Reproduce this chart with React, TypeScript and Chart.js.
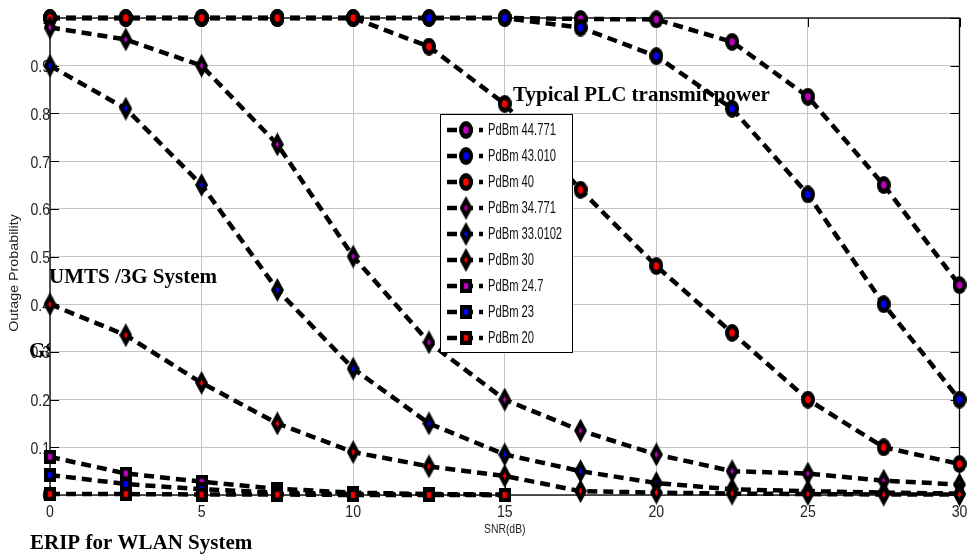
import React, { useEffect, useRef } from 'react';
import { Chart, registerables } from 'chart.js';

Chart.register(...registerables);

// ---- data ----
const snr = [0, 2.5, 5, 7.5, 10, 12.5, 15, 17.5, 20, 22.5, 25, 27.5, 30];
const p44771 = [1, 1, 1, 1, 1, 1, 1, 0.998, 0.997, 0.95, 0.835, 0.65, 0.44];
const p43010 = [1, 1, 1, 1, 1, 1, 1, 0.98, 0.92, 0.81, 0.63, 0.4, 0.2];
const p40 = [1, 1, 1, 1, 1, 0.94, 0.82, 0.64, 0.48, 0.34, 0.2, 0.1, 0.065];
const p34771 = [0.98, 0.955, 0.9, 0.735, 0.5, 0.32, 0.2, 0.135, 0.085, 0.05, 0.045, 0.03, 0.022];
const p330102 = [0.9, 0.81, 0.65, 0.43, 0.265, 0.15, 0.085, 0.05, 0.025, 0.012, 0.008, 0.005, 0.003];
const p30 = [0.4, 0.335, 0.235, 0.15, 0.09, 0.06, 0.04, 0.008, 0.005, 0.003, 0.002, 0.001, 0.001];
const p247 = [0.08, 0.045, 0.028, 0.013, 0.005, 0.002, 0.001];
const p23 = [0.042, 0.023, 0.012, 0.005, 0.002, 0.001, 0];
const p20 = [0.002, 0.002, 0.001, 0.001, 0, 0, 0];

const seriesNames = [
  'PdBm 44.771',
  'PdBm 43.010',
  'PdBm 40',
  'PdBm 34.771',
  'PdBm 33.0102',
  'PdBm 30',
  'PdBm 24.7',
  'PdBm 23',
  'PdBm 20',
];
const seriesValues = [p44771, p43010, p40, p34771, p330102, p30, p247, p23, p20];
const seriesShapes = ['circle', 'circle', 'circle', 'diamond', 'diamond', 'diamond', 'square', 'square', 'square'];
const seriesColors = ['#c000c0', '#0000ff', '#ff0000', '#c000c0', '#0000ff', '#ff0000', '#c000c0', '#0000ff', '#ff0000'];

const xTicks = [0, 5, 10, 15, 20, 25, 30];
const xTickLabels = ['0', '5', '10', '15', '20', '25', '30'];
const yTicks = [0, 0.1, 0.2, 0.3, 0.4, 0.5, 0.6, 0.7, 0.8, 0.9, 1];
const yTickLabels = ['0', '0.1', '0.2', '0.3', '0.4', '0.5', '0.6', '0.7', '0.8', '0.9', '1'];

const xTitle = 'SNR(dB)';
const yTitle = 'Outage Probability';
const notePLC = 'Typical PLC transmit power';
const noteUMTS = 'UMTS /3G System';
const noteGSM = 'GSM System';
const noteWLAN = 'ERIP for WLAN System';

const SANS = '"Liberation Sans", Arial, sans-serif';
const SERIF = '"Liberation Serif", "Times New Roman", serif';

function makeMarker(shape: string, color: string): HTMLCanvasElement {
  const c = document.createElement('canvas');
  let w = 12;
  let h = 14;
  if (shape === 'circle') { w = 14; h = 18; }
  if (shape === 'diamond') { w = 13; h = 24; }
  c.width = w;
  c.height = h;
  const g = c.getContext('2d')!;
  const cx = w / 2;
  const cy = h / 2;
  const shapePath = (hw: number, hh: number) => {
    g.beginPath();
    if (shape === 'circle') {
      g.ellipse(cx, cy, hw, hh, 0, 0, Math.PI * 2);
    } else if (shape === 'diamond') {
      g.moveTo(cx, cy - hh);
      g.lineTo(cx + hw, cy);
      g.lineTo(cx, cy + hh);
      g.lineTo(cx - hw, cy);
      g.closePath();
    } else {
      g.rect(cx - hw, cy - hh, hw * 2, hh * 2);
    }
  };
  g.fillStyle = '#000';
  shapePath(w / 2, h / 2);
  g.fill();
  g.fillStyle = color;
  if (shape === 'circle') shapePath(2.8, 3.8);
  else if (shape === 'diamond') shapePath(1.8, 3.6);
  else shapePath(2.2, 2.8);
  g.fill();
  return c;
}

function txt(
  ctx: CanvasRenderingContext2D,
  s: string,
  x: number,
  y: number,
  font: string,
  sx: number,
  align: CanvasTextAlign,
  baseline: CanvasTextBaseline = 'alphabetic',
  color = '#000',
  rot = 0
) {
  ctx.save();
  ctx.font = font;
  ctx.fillStyle = color;
  ctx.textAlign = align;
  ctx.textBaseline = baseline;
  ctx.translate(x, y);
  if (rot) ctx.rotate(rot);
  ctx.scale(sx, 1);
  ctx.fillText(s, 0, 0);
  ctx.restore();
}

export default function App() {
  const ref = useRef<HTMLCanvasElement | null>(null);

  useEffect(() => {
    document.body.style.margin = '0';
    const canvas = ref.current;
    if (!canvas) return;

    const markers = seriesShapes.map((s, i) => makeMarker(s, seriesColors[i]));

    const datasets = seriesValues.map((vals, i) => ({
      label: seriesNames[i],
      data: vals.map((v, j) => ({ x: snr[j], y: v })),
      borderColor: '#000',
      backgroundColor: '#000',
      borderWidth: 4.5,
      borderDash: [10, 6],
      borderCapStyle: 'butt' as const,
      pointStyle: markers[i],
      pointRadius: 7,
      pointHoverRadius: 7,
      fill: false,
      tension: 0,
      clip: false as any,
      order: seriesValues.length - i,
    }));

    const decor = {
      id: 'decor',
      beforeDatasetsDraw(chart: any) {
        const ctx: CanvasRenderingContext2D = chart.ctx;
        const xs = chart.scales.x;
        const ys = chart.scales.y;
        const a = chart.chartArea;
        ctx.save();
        // frame
        ctx.strokeStyle = '#000';
        ctx.lineWidth = 1.3;
        ctx.strokeRect(a.left, a.top, a.right - a.left, a.bottom - a.top);
        // inner ticks
        ctx.lineWidth = 1;
        ctx.beginPath();
        yTicks.forEach((t) => {
          const y = Math.round(ys.getPixelForValue(t)) + 0.5;
          ctx.moveTo(a.left, y);
          ctx.lineTo(a.left + 9, y);
          ctx.moveTo(a.right, y);
          ctx.lineTo(a.right - 9, y);
        });
        xTicks.forEach((t) => {
          const x = Math.round(xs.getPixelForValue(t)) + 0.5;
          ctx.moveTo(x, a.bottom);
          ctx.lineTo(x, a.bottom - 9);
          ctx.moveTo(x, a.top);
          ctx.lineTo(x, a.top + 9);
        });
        ctx.stroke();
        ctx.restore();

        // tick labels
        yTicks.forEach((t, i) => {
          txt(ctx, yTickLabels[i], a.left, ys.getPixelForValue(t) + 2, `16px ${SANS}`, 0.88, 'right', 'middle', '#222');
        });
        xTicks.forEach((t, i) => {
          txt(ctx, xTickLabels[i], xs.getPixelForValue(t), 513, `16px ${SANS}`, 0.88, 'center', 'middle', '#222');
        });
        // axis titles
        txt(ctx, xTitle, (a.left + a.right) / 2, 529, `13px ${SANS}`, 0.8, 'center', 'middle', '#222');
        txt(ctx, yTitle, 14, 273, `13px ${SANS}`, 1.1, 'center', 'middle', '#222', -Math.PI / 2);

        // annotations
        txt(ctx, notePLC, 513, 101, `bold 21px ${SERIF}`, 1, 'left');
        txt(ctx, noteUMTS, 49, 283, `bold 21px ${SERIF}`, 1, 'left');
        ctx.save();
        ctx.beginPath();
        ctx.rect(0, 0, a.left, chart.height);
        ctx.clip();
        txt(ctx, noteGSM, 29, 357, `bold 21px ${SERIF}`, 1, 'left');
        ctx.restore();
        txt(ctx, noteWLAN, 30, 549, `bold 21px ${SERIF}`, 1, 'left');
      },
      afterDatasetsDraw(chart: any) {
        const ctx: CanvasRenderingContext2D = chart.ctx;
        const bx = 440.5;
        const by = 114.5;
        const bw = 132;
        const bh = 238;
        ctx.save();
        ctx.fillStyle = '#fff';
        ctx.fillRect(bx, by, bw, bh);
        ctx.strokeStyle = '#000';
        ctx.lineWidth = 1;
        ctx.strokeRect(bx, by, bw, bh);
        seriesNames.forEach((name, i) => {
          const y = 130 + 26 * i;
          ctx.save();
          ctx.strokeStyle = '#000';
          ctx.lineWidth = 4.5;
          ctx.setLineDash([10, 6]);
          ctx.beginPath();
          ctx.moveTo(447, y);
          ctx.lineTo(483, y);
          ctx.stroke();
          ctx.restore();
          const m = markers[i];
          ctx.drawImage(m, 466 - m.width / 2, y - m.height / 2);
          txt(ctx, name, 488, y + 1, `16px ${SANS}`, 0.7, 'left', 'middle', '#111');
        });
        ctx.restore();
      },
    };

    const chart = new Chart(canvas, {
      type: 'line',
      data: { datasets: datasets as any },
      options: {
        responsive: false,
        animation: false,
        layout: { padding: { left: 50, right: 8, top: 18, bottom: 59 } },
        plugins: { legend: { display: false }, tooltip: { enabled: false } },
        scales: {
          x: {
            type: 'linear',
            min: 0,
            max: 30,
            ticks: { display: false, stepSize: 5 },
            grid: { color: '#c4c4c4', lineWidth: 1, drawTicks: false },
            border: { display: false },
          },
          y: {
            type: 'linear',
            min: 0,
            max: 1,
            ticks: { display: false, stepSize: 0.1 },
            grid: { color: '#c4c4c4', lineWidth: 1, drawTicks: false },
            border: { display: false },
          },
        },
      },
      plugins: [decor],
    });

    return () => chart.destroy();
  }, []);

  return (
    <div style={{ width: 971, height: 554, background: '#fff' }}>
      <canvas ref={ref} width={971} height={554} style={{ display: 'block' }} />
    </div>
  );
}
